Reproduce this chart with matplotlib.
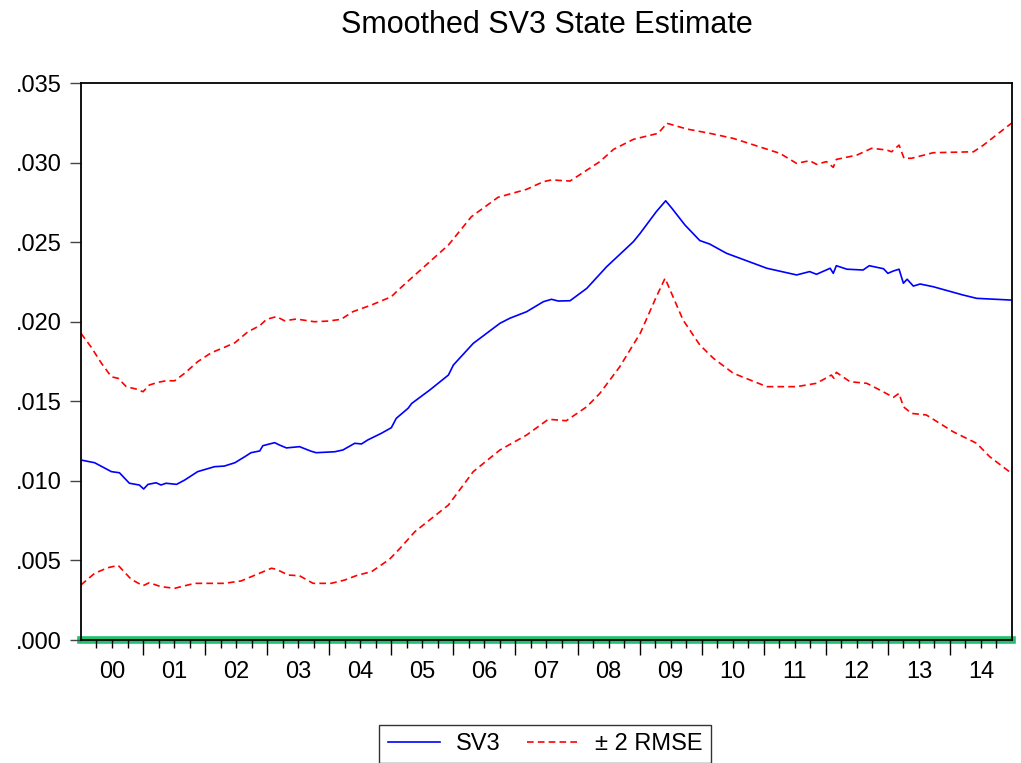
import matplotlib
matplotlib.use('Agg')
from matplotlib import pyplot as plt
import matplotlib.ticker as mtick

plt.rcParams['font.family'] = ['Liberation Sans', 'DejaVu Sans']

# Smoothed state SV3 (date in fractional years, value)
sv3_date = [2000.0, 2000.22, 2000.49, 2000.62, 2000.78, 2000.94, 2001.01, 2001.08, 2001.21,
            2001.29, 2001.37, 2001.54, 2001.67, 2001.88, 2002.15, 2002.31, 2002.48, 2002.64,
            2002.74, 2002.88, 2002.93, 2003.12, 2003.2, 2003.31, 2003.52, 2003.71, 2003.79,
            2004.09, 2004.22, 2004.41, 2004.52, 2004.62, 2004.84, 2005.0, 2005.08, 2005.27,
            2005.33, 2005.62, 2005.92, 2006.0, 2006.32, 2006.75, 2006.91, 2007.18, 2007.45,
            2007.58, 2007.69, 2007.88, 2008.15, 2008.47, 2008.9, 2009.01, 2009.27, 2009.42,
            2009.52, 2009.73, 2009.97, 2010.13, 2010.4, 2011.05, 2011.53, 2011.74, 2011.85,
            2012.07, 2012.12, 2012.17, 2012.34, 2012.6, 2012.7, 2012.93, 2013.0, 2013.09,
            2013.18, 2013.25, 2013.31, 2013.41, 2013.52, 2013.73, 2014.21, 2014.43, 2014.99]
sv3_val = [.01131, .01114, .01058, .01051, .00985, .00974, .00949, .00978, .00988,
           .00974, .00985, .00978, .01005, .01058, .01089, .01093, .01114, .01152,
           .01177, .01188, .01221, .0124, .01225, .01207, .01215, .01186, .01177,
           .01183, .01194, .01236, .01232, .01257, .01299, .01334, .01393, .01456,
           .01487, .01571, .01665, .01728, .01864, .0199, .02022, .02063, .02126,
           .02141, .0213, .02132, .0221, .02346, .02503, .02556, .02692, .0276,
           .02713, .02608, .02510, .02488, .0243, .02336, .02294, .02315, .02298,
           .02336, .02304, .02352, .0233, .02325, .02352, .02333, .02304, .02319,
           .0233, .02242, .02267, .02224, .02237, .0222, .02168, .02147, .02136]

# + 2 RMSE band
up_date = [2000.0, 2000.16, 2000.33, 2000.49, 2000.6, 2000.73, 2000.89, 2001.0, 2001.1,
           2001.24, 2001.37, 2001.51, 2001.67, 2001.88, 2002.1, 2002.31, 2002.48, 2002.69,
           2002.88, 2002.99, 2003.15, 2003.28, 2003.47, 2003.76, 2003.98, 2004.19, 2004.38,
           2004.68, 2005.0, 2005.11, 2005.41, 2005.92, 2006.29, 2006.72, 2007.18, 2007.45,
           2007.58, 2007.88, 2008.36, 2008.58, 2008.9, 2009.3, 2009.44, 2009.76, 2010.13,
           2010.51, 2011.26, 2011.53, 2011.74, 2011.85, 2012.01, 2012.12, 2012.17, 2012.5,
           2012.74, 2012.98, 2013.06, 2013.18, 2013.26, 2013.38, 2013.73, 2014.38, 2014.54,
           2014.99]
up_val = [.01927, .01843, .01739, .01654, .01644, .01592, .01577, .0156, .01602,
          .01619, .01629, .01629, .01676, .01749, .01805, .01839, .01868, .01937,
          .01975, .02015, .02032, .02006, .02017, .02, .02004, .02015, .02063,
          .02105, .02157, .02199, .02304, .02482, .0266, .02782, .02832, .0288,
          .02891, .02884, .03006, .03083, .03146, .03184, .03247, .03211, .03184,
          .03152, .03058, .02995, .03012, .02989, .03006, .0297, .0302, .03047,
          .0309, .03079, .03068, .0311, .03027, .03027, .03062, .03068, .0311,
          .03247]

# - 2 RMSE band
lo_date = [2000.0, 2000.22, 2000.43, 2000.6, 2000.81, 2001.0, 2001.1, 2001.29, 2001.51,
           2001.83, 2002.31, 2002.58, 2002.8, 2003.07, 2003.15, 2003.34, 2003.52, 2003.74,
           2004.03, 2004.25, 2004.46, 2004.68, 2004.97, 2005.14, 2005.38, 2005.92, 2006.32,
           2006.75, 2007.18, 2007.53, 2007.82, 2008.15, 2008.36, 2008.68, 2009.01, 2009.27,
           2009.41, 2009.7, 2009.97, 2010.19, 2010.51, 2011.05, 2011.53, 2011.85, 2012.09,
           2012.13, 2012.17, 2012.39, 2012.66, 2012.87, 2013.09, 2013.18, 2013.25, 2013.38,
           2013.62, 2014.05, 2014.43, 2014.64, 2014.99]
lo_val = [.00346, .00419, .00454, .00469, .00381, .00341, .0036, .00335, .00325,
          .00356, .00356, .00371, .00407, .00451, .00444, .00408, .00404, .00356,
          .00356, .00377, .00408, .00429, .00507, .00576, .00681, .00848, .01058,
          .01194, .01288, .01387, .01378, .01466, .0155, .01717, .01927, .02157,
          .02273, .02011, .01854, .0177, .01676, .01592, .01592, .01613, .01665,
          .01645, .01682, .01623, .01613, .01571, .01525, .0155, .01466, .01424,
          .01414, .01309, .01236, .01152, .01048]

years = list(range(2000, 2015))
year_labels = ['%02d' % (y % 100) for y in years]

fig = plt.figure(figsize=(10.21, 7.63), dpi=100)
ax = fig.add_axes([0.0793, 0.1612, 0.9119, 0.73])

# zero line (green band straddling the axis)
ax.axhline(0, color='#22c070', lw=5.5, zorder=1, clip_on=False)

ax.plot(sv3_date, sv3_val, color='#0000ff', lw=1.2, label='SV3', zorder=3)
ax.plot(up_date, up_val, color='#ff0000', lw=1.2, dashes=(4, 2.5), label='\u00b1 2 RMSE', zorder=3)
ax.plot(lo_date, lo_val, color='#ff0000', lw=1.2, dashes=(4, 2.5), zorder=3)

ax.set_xlim(2000, 2015)
ax.set_ylim(0, 0.035)

# Y axis format .035
ax.yaxis.set_major_locator(mtick.MultipleLocator(0.005))
ax.yaxis.set_major_formatter(mtick.FuncFormatter(lambda v, p: ('%.3f' % v)[1:]))
ax.tick_params(axis='y', which='major', direction='out', length=8, width=1,
               labelsize=17, pad=6, color='#444444')

# X axis: year boundaries as major ticks, quarters as minor, labels mid-year
ax.xaxis.set_major_locator(mtick.FixedLocator(years[1:]))
ax.xaxis.set_major_formatter(mtick.NullFormatter())
quarters = [y + q for y in years for q in (0.25, 0.5, 0.75)]
ax.xaxis.set_minor_locator(mtick.FixedLocator(quarters))
ax.xaxis.set_minor_formatter(mtick.FuncFormatter(
    lambda v, p: year_labels[int(v) - 2000] if abs(v - int(v) - 0.5) < 0.01 else ''))
ax.tick_params(axis='x', which='major', direction='out', length=11, width=1)
ax.tick_params(axis='x', which='minor', direction='out', length=6, width=1,
               labelsize=17, pad=9)

for s in ax.spines.values():
    s.set_linewidth(1.3)
    s.set_zorder(4)

ax.set_title('Smoothed SV3 State Estimate', fontsize=22, pad=36)

# legend below
leg = fig.legend(loc='upper center', bbox_to_anchor=(0.534, 0.05), ncol=2,
                 fontsize=17, frameon=True, fancybox=False, edgecolor='black',
                 handlelength=2.2, columnspacing=1.1, handletextpad=0.7,
                 borderpad=0.35, borderaxespad=0)
leg.get_frame().set_linewidth(1.0)

plt.savefig('out.png', dpi=100)
